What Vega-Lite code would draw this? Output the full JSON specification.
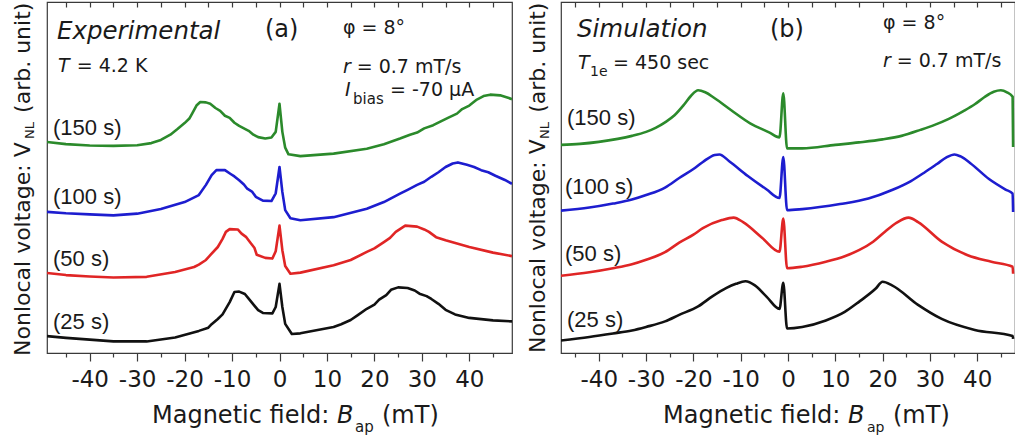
{
  "$schema": "https://vega.github.io/schema/vega-lite/v6.json",
  "padding": {"left": 11, "top": 0, "right": 0, "bottom": 0},
  "background": "white",
  "bounds": "flush",
  "spacing": 49,
  "config": {
    "view": {"stroke": "#3a3a3a", "strokeWidth": 1.2},
    "axis": {"domainColor": "#3a3a3a", "tickColor": "#3a3a3a", "labelFont": "DejaVu Sans", "labelFontSize": 23, "labelColor": "#1a1a1a", "grid": false, "tickWidth": 1.2, "domainWidth": 1.2},
    "text": {"font": "DejaVu Sans", "color": "#1a1a1a", "align": "left", "baseline": "alphabetic"}
  },
  "datasets": {
    "curves": [
      {"p": "a", "s": "150 s", "B": -49, "V": 6.01}, {"p": "a", "s": "150 s", "B": -45, "V": 5.95}, {"p": "a", "s": "150 s", "B": -40, "V": 5.91}, {"p": "a", "s": "150 s", "B": -35, "V": 5.9}, {"p": "a", "s": "150 s", "B": -30, "V": 5.92}, {"p": "a", "s": "150 s", "B": -27, "V": 5.98}, {"p": "a", "s": "150 s", "B": -25, "V": 6.07}, {"p": "a", "s": "150 s", "B": -23, "V": 6.22}, {"p": "a", "s": "150 s", "B": -21.5, "V": 6.38}, {"p": "a", "s": "150 s", "B": -20, "V": 6.55}, {"p": "a", "s": "150 s", "B": -19, "V": 6.68}, {"p": "a", "s": "150 s", "B": -18.3, "V": 6.85}, {"p": "a", "s": "150 s", "B": -17.5, "V": 7.05}, {"p": "a", "s": "150 s", "B": -16.7, "V": 7.15}, {"p": "a", "s": "150 s", "B": -15.5, "V": 7.14}, {"p": "a", "s": "150 s", "B": -14.6, "V": 7.1}, {"p": "a", "s": "150 s", "B": -13.5, "V": 6.98}, {"p": "a", "s": "150 s", "B": -12.5, "V": 6.9}, {"p": "a", "s": "150 s", "B": -11.5, "V": 6.76}, {"p": "a", "s": "150 s", "B": -10.5, "V": 6.7}, {"p": "a", "s": "150 s", "B": -9.5, "V": 6.56}, {"p": "a", "s": "150 s", "B": -8.5, "V": 6.47}, {"p": "a", "s": "150 s", "B": -7.5, "V": 6.4}, {"p": "a", "s": "150 s", "B": -6.5, "V": 6.33}, {"p": "a", "s": "150 s", "B": -5.5, "V": 6.22}, {"p": "a", "s": "150 s", "B": -4.5, "V": 6.15}, {"p": "a", "s": "150 s", "B": -3, "V": 6.11}, {"p": "a", "s": "150 s", "B": -1.7, "V": 6.14}, {"p": "a", "s": "150 s", "B": -0.8, "V": 6.3}, {"p": "a", "s": "150 s", "B": 0, "V": 7.1}, {"p": "a", "s": "150 s", "B": 0.6, "V": 6.3}, {"p": "a", "s": "150 s", "B": 1.2, "V": 5.85}, {"p": "a", "s": "150 s", "B": 1.9, "V": 5.66}, {"p": "a", "s": "150 s", "B": 4.4, "V": 5.61}, {"p": "a", "s": "150 s", "B": 11.4, "V": 5.68}, {"p": "a", "s": "150 s", "B": 18.4, "V": 5.82}, {"p": "a", "s": "150 s", "B": 22, "V": 5.95}, {"p": "a", "s": "150 s", "B": 25.4, "V": 6.11}, {"p": "a", "s": "150 s", "B": 27.5, "V": 6.22}, {"p": "a", "s": "150 s", "B": 29, "V": 6.28}, {"p": "a", "s": "150 s", "B": 30.5, "V": 6.4}, {"p": "a", "s": "150 s", "B": 32.4, "V": 6.49}, {"p": "a", "s": "150 s", "B": 34, "V": 6.6}, {"p": "a", "s": "150 s", "B": 35.5, "V": 6.7}, {"p": "a", "s": "150 s", "B": 37.4, "V": 6.82}, {"p": "a", "s": "150 s", "B": 38.5, "V": 6.95}, {"p": "a", "s": "150 s", "B": 40, "V": 7.05}, {"p": "a", "s": "150 s", "B": 41.6, "V": 7.22}, {"p": "a", "s": "150 s", "B": 43, "V": 7.32}, {"p": "a", "s": "150 s", "B": 44.4, "V": 7.36}, {"p": "a", "s": "150 s", "B": 46.5, "V": 7.34}, {"p": "a", "s": "150 s", "B": 48, "V": 7.28}, {"p": "a", "s": "150 s", "B": 49, "V": 7.23},

      {"p": "a", "s": "100 s", "B": -49, "V": 4.02}, {"p": "a", "s": "100 s", "B": -45, "V": 3.98}, {"p": "a", "s": "100 s", "B": -40, "V": 3.95}, {"p": "a", "s": "100 s", "B": -35, "V": 3.92}, {"p": "a", "s": "100 s", "B": -30, "V": 3.97}, {"p": "a", "s": "100 s", "B": -25, "V": 4.1}, {"p": "a", "s": "100 s", "B": -20, "V": 4.3}, {"p": "a", "s": "100 s", "B": -17, "V": 4.5}, {"p": "a", "s": "100 s", "B": -15.5, "V": 4.79}, {"p": "a", "s": "100 s", "B": -14.3, "V": 5.07}, {"p": "a", "s": "100 s", "B": -13.3, "V": 5.21}, {"p": "a", "s": "100 s", "B": -11.5, "V": 5.21}, {"p": "a", "s": "100 s", "B": -10.3, "V": 5.1}, {"p": "a", "s": "100 s", "B": -9.5, "V": 5.03}, {"p": "a", "s": "100 s", "B": -8.5, "V": 4.92}, {"p": "a", "s": "100 s", "B": -7.5, "V": 4.8}, {"p": "a", "s": "100 s", "B": -6.8, "V": 4.68}, {"p": "a", "s": "100 s", "B": -5.8, "V": 4.6}, {"p": "a", "s": "100 s", "B": -5, "V": 4.45}, {"p": "a", "s": "100 s", "B": -3.5, "V": 4.34}, {"p": "a", "s": "100 s", "B": -1.7, "V": 4.33}, {"p": "a", "s": "100 s", "B": -0.8, "V": 4.55}, {"p": "a", "s": "100 s", "B": 0, "V": 5.3}, {"p": "a", "s": "100 s", "B": 0.6, "V": 4.59}, {"p": "a", "s": "100 s", "B": 1.2, "V": 4.07}, {"p": "a", "s": "100 s", "B": 2.3, "V": 3.84}, {"p": "a", "s": "100 s", "B": 4.4, "V": 3.78}, {"p": "a", "s": "100 s", "B": 11.4, "V": 3.87}, {"p": "a", "s": "100 s", "B": 18.4, "V": 4.11}, {"p": "a", "s": "100 s", "B": 22, "V": 4.3}, {"p": "a", "s": "100 s", "B": 25.4, "V": 4.54}, {"p": "a", "s": "100 s", "B": 27, "V": 4.65}, {"p": "a", "s": "100 s", "B": 29, "V": 4.79}, {"p": "a", "s": "100 s", "B": 30.5, "V": 4.88}, {"p": "a", "s": "100 s", "B": 32, "V": 5.02}, {"p": "a", "s": "100 s", "B": 33.5, "V": 5.15}, {"p": "a", "s": "100 s", "B": 35, "V": 5.3}, {"p": "a", "s": "100 s", "B": 36.5, "V": 5.4}, {"p": "a", "s": "100 s", "B": 37.6, "V": 5.43}, {"p": "a", "s": "100 s", "B": 39.5, "V": 5.36}, {"p": "a", "s": "100 s", "B": 41, "V": 5.3}, {"p": "a", "s": "100 s", "B": 42.5, "V": 5.21}, {"p": "a", "s": "100 s", "B": 44, "V": 5.15}, {"p": "a", "s": "100 s", "B": 45.5, "V": 5.05}, {"p": "a", "s": "100 s", "B": 47.5, "V": 4.93}, {"p": "a", "s": "100 s", "B": 49, "V": 4.82},

      {"p": "a", "s": "50 s", "B": -49, "V": 2.28}, {"p": "a", "s": "50 s", "B": -45, "V": 2.22}, {"p": "a", "s": "50 s", "B": -40, "V": 2.18}, {"p": "a", "s": "50 s", "B": -35, "V": 2.15}, {"p": "a", "s": "50 s", "B": -28, "V": 2.17}, {"p": "a", "s": "50 s", "B": -22, "V": 2.31}, {"p": "a", "s": "50 s", "B": -18, "V": 2.45}, {"p": "a", "s": "50 s", "B": -17, "V": 2.52}, {"p": "a", "s": "50 s", "B": -15.5, "V": 2.65}, {"p": "a", "s": "50 s", "B": -14.5, "V": 2.8}, {"p": "a", "s": "50 s", "B": -13, "V": 3.02}, {"p": "a", "s": "50 s", "B": -12, "V": 3.25}, {"p": "a", "s": "50 s", "B": -11.3, "V": 3.45}, {"p": "a", "s": "50 s", "B": -10.5, "V": 3.53}, {"p": "a", "s": "50 s", "B": -8.8, "V": 3.52}, {"p": "a", "s": "50 s", "B": -8, "V": 3.4}, {"p": "a", "s": "50 s", "B": -7, "V": 3.3}, {"p": "a", "s": "50 s", "B": -6, "V": 3.12}, {"p": "a", "s": "50 s", "B": -5.3, "V": 3.0}, {"p": "a", "s": "50 s", "B": -4.8, "V": 2.8}, {"p": "a", "s": "50 s", "B": -3, "V": 2.71}, {"p": "a", "s": "50 s", "B": -1.5, "V": 2.69}, {"p": "a", "s": "50 s", "B": -0.8, "V": 2.9}, {"p": "a", "s": "50 s", "B": 0, "V": 3.63}, {"p": "a", "s": "50 s", "B": 0.6, "V": 2.93}, {"p": "a", "s": "50 s", "B": 1.2, "V": 2.48}, {"p": "a", "s": "50 s", "B": 2.3, "V": 2.26}, {"p": "a", "s": "50 s", "B": 4.4, "V": 2.29}, {"p": "a", "s": "50 s", "B": 11.4, "V": 2.5}, {"p": "a", "s": "50 s", "B": 15, "V": 2.65}, {"p": "a", "s": "50 s", "B": 18.4, "V": 2.88}, {"p": "a", "s": "50 s", "B": 20, "V": 2.98}, {"p": "a", "s": "50 s", "B": 22, "V": 3.16}, {"p": "a", "s": "50 s", "B": 23.3, "V": 3.28}, {"p": "a", "s": "50 s", "B": 24.5, "V": 3.45}, {"p": "a", "s": "50 s", "B": 26.5, "V": 3.63}, {"p": "a", "s": "50 s", "B": 29, "V": 3.6}, {"p": "a", "s": "50 s", "B": 30.5, "V": 3.52}, {"p": "a", "s": "50 s", "B": 31.5, "V": 3.45}, {"p": "a", "s": "50 s", "B": 33, "V": 3.3}, {"p": "a", "s": "50 s", "B": 35, "V": 3.21}, {"p": "a", "s": "50 s", "B": 40, "V": 3.02}, {"p": "a", "s": "50 s", "B": 45, "V": 2.86}, {"p": "a", "s": "50 s", "B": 49, "V": 2.76},

      {"p": "a", "s": "25 s", "B": -49, "V": 0.48}, {"p": "a", "s": "25 s", "B": -45, "V": 0.43}, {"p": "a", "s": "25 s", "B": -40, "V": 0.38}, {"p": "a", "s": "25 s", "B": -35, "V": 0.33}, {"p": "a", "s": "25 s", "B": -28, "V": 0.33}, {"p": "a", "s": "25 s", "B": -22, "V": 0.44}, {"p": "a", "s": "25 s", "B": -17, "V": 0.63}, {"p": "a", "s": "25 s", "B": -15, "V": 0.72}, {"p": "a", "s": "25 s", "B": -14.3, "V": 0.82}, {"p": "a", "s": "25 s", "B": -13, "V": 0.97}, {"p": "a", "s": "25 s", "B": -12, "V": 1.1}, {"p": "a", "s": "25 s", "B": -10.5, "V": 1.45}, {"p": "a", "s": "25 s", "B": -9.5, "V": 1.74}, {"p": "a", "s": "25 s", "B": -8.5, "V": 1.75}, {"p": "a", "s": "25 s", "B": -7.3, "V": 1.68}, {"p": "a", "s": "25 s", "B": -6.5, "V": 1.55}, {"p": "a", "s": "25 s", "B": -5.3, "V": 1.35}, {"p": "a", "s": "25 s", "B": -4.5, "V": 1.22}, {"p": "a", "s": "25 s", "B": -3.5, "V": 1.14}, {"p": "a", "s": "25 s", "B": -1.5, "V": 1.13}, {"p": "a", "s": "25 s", "B": -0.8, "V": 1.31}, {"p": "a", "s": "25 s", "B": 0, "V": 1.97}, {"p": "a", "s": "25 s", "B": 0.6, "V": 1.31}, {"p": "a", "s": "25 s", "B": 1.2, "V": 0.83}, {"p": "a", "s": "25 s", "B": 2.6, "V": 0.54}, {"p": "a", "s": "25 s", "B": 4.4, "V": 0.56}, {"p": "a", "s": "25 s", "B": 11.4, "V": 0.74}, {"p": "a", "s": "25 s", "B": 13, "V": 0.82}, {"p": "a", "s": "25 s", "B": 15, "V": 0.94}, {"p": "a", "s": "25 s", "B": 16.5, "V": 1.08}, {"p": "a", "s": "25 s", "B": 18.4, "V": 1.26}, {"p": "a", "s": "25 s", "B": 20, "V": 1.38}, {"p": "a", "s": "25 s", "B": 21, "V": 1.52}, {"p": "a", "s": "25 s", "B": 22.5, "V": 1.65}, {"p": "a", "s": "25 s", "B": 23.5, "V": 1.8}, {"p": "a", "s": "25 s", "B": 25, "V": 1.87}, {"p": "a", "s": "25 s", "B": 27, "V": 1.85}, {"p": "a", "s": "25 s", "B": 28.5, "V": 1.78}, {"p": "a", "s": "25 s", "B": 29.5, "V": 1.69}, {"p": "a", "s": "25 s", "B": 31, "V": 1.62}, {"p": "a", "s": "25 s", "B": 32, "V": 1.54}, {"p": "a", "s": "25 s", "B": 33.5, "V": 1.4}, {"p": "a", "s": "25 s", "B": 35, "V": 1.23}, {"p": "a", "s": "25 s", "B": 37, "V": 1.1}, {"p": "a", "s": "25 s", "B": 40, "V": 1.0}, {"p": "a", "s": "25 s", "B": 45, "V": 0.93}, {"p": "a", "s": "25 s", "B": 49, "V": 0.9},

      {"p": "b", "s": "150 s", "B": -48, "V": 4.15}, {"p": "b", "s": "150 s", "B": -44, "V": 4.17}, {"p": "b", "s": "150 s", "B": -40, "V": 4.21}, {"p": "b", "s": "150 s", "B": -36, "V": 4.27}, {"p": "b", "s": "150 s", "B": -33, "V": 4.33}, {"p": "b", "s": "150 s", "B": -30, "V": 4.41}, {"p": "b", "s": "150 s", "B": -28, "V": 4.49}, {"p": "b", "s": "150 s", "B": -26, "V": 4.6}, {"p": "b", "s": "150 s", "B": -24, "V": 4.74}, {"p": "b", "s": "150 s", "B": -22, "V": 4.95}, {"p": "b", "s": "150 s", "B": -20.5, "V": 5.13}, {"p": "b", "s": "150 s", "B": -19, "V": 5.24}, {"p": "b", "s": "150 s", "B": -17.5, "V": 5.2}, {"p": "b", "s": "150 s", "B": -15.5, "V": 5.08}, {"p": "b", "s": "150 s", "B": -12, "V": 4.84}, {"p": "b", "s": "150 s", "B": -8, "V": 4.58}, {"p": "b", "s": "150 s", "B": -4, "V": 4.4}, {"p": "b", "s": "150 s", "B": -1.8, "V": 4.3}, {"p": "b", "s": "150 s", "B": -1.0, "V": 5.18}, {"p": "b", "s": "150 s", "B": -0.2, "V": 4.08}, {"p": "b", "s": "150 s", "B": 3, "V": 4.08}, {"p": "b", "s": "150 s", "B": 10, "V": 4.15}, {"p": "b", "s": "150 s", "B": 15, "V": 4.2}, {"p": "b", "s": "150 s", "B": 20, "V": 4.26}, {"p": "b", "s": "150 s", "B": 24, "V": 4.33}, {"p": "b", "s": "150 s", "B": 28, "V": 4.45}, {"p": "b", "s": "150 s", "B": 31, "V": 4.55}, {"p": "b", "s": "150 s", "B": 34, "V": 4.67}, {"p": "b", "s": "150 s", "B": 37, "V": 4.82}, {"p": "b", "s": "150 s", "B": 39.5, "V": 4.96}, {"p": "b", "s": "150 s", "B": 41.5, "V": 5.1}, {"p": "b", "s": "150 s", "B": 43.5, "V": 5.21}, {"p": "b", "s": "150 s", "B": 45, "V": 5.24}, {"p": "b", "s": "150 s", "B": 46.3, "V": 5.2}, {"p": "b", "s": "150 s", "B": 47.5, "V": 5.11}, {"p": "b", "s": "150 s", "B": 47.6, "V": 4.11},

      {"p": "b", "s": "100 s", "B": -48, "V": 2.84}, {"p": "b", "s": "100 s", "B": -42, "V": 2.9}, {"p": "b", "s": "100 s", "B": -37, "V": 2.98}, {"p": "b", "s": "100 s", "B": -33, "V": 3.06}, {"p": "b", "s": "100 s", "B": -30, "V": 3.15}, {"p": "b", "s": "100 s", "B": -26, "V": 3.3}, {"p": "b", "s": "100 s", "B": -23, "V": 3.49}, {"p": "b", "s": "100 s", "B": -20, "V": 3.67}, {"p": "b", "s": "100 s", "B": -18, "V": 3.81}, {"p": "b", "s": "100 s", "B": -15.5, "V": 3.95}, {"p": "b", "s": "100 s", "B": -14.5, "V": 3.96}, {"p": "b", "s": "100 s", "B": -12.5, "V": 3.83}, {"p": "b", "s": "100 s", "B": -8.5, "V": 3.53}, {"p": "b", "s": "100 s", "B": -4.5, "V": 3.26}, {"p": "b", "s": "100 s", "B": -1.8, "V": 3.09}, {"p": "b", "s": "100 s", "B": -1.0, "V": 3.91}, {"p": "b", "s": "100 s", "B": -0.2, "V": 2.85}, {"p": "b", "s": "100 s", "B": 3, "V": 2.87}, {"p": "b", "s": "100 s", "B": 11, "V": 2.97}, {"p": "b", "s": "100 s", "B": 17, "V": 3.08}, {"p": "b", "s": "100 s", "B": 22, "V": 3.25}, {"p": "b", "s": "100 s", "B": 26, "V": 3.43}, {"p": "b", "s": "100 s", "B": 29, "V": 3.61}, {"p": "b", "s": "100 s", "B": 31.5, "V": 3.77}, {"p": "b", "s": "100 s", "B": 33.5, "V": 3.9}, {"p": "b", "s": "100 s", "B": 35.2, "V": 3.96}, {"p": "b", "s": "100 s", "B": 36.5, "V": 3.92}, {"p": "b", "s": "100 s", "B": 38.5, "V": 3.79}, {"p": "b", "s": "100 s", "B": 42.5, "V": 3.47}, {"p": "b", "s": "100 s", "B": 46, "V": 3.26}, {"p": "b", "s": "100 s", "B": 47.5, "V": 3.18}, {"p": "b", "s": "100 s", "B": 47.6, "V": 2.81},

      {"p": "b", "s": "50 s", "B": -48, "V": 1.54}, {"p": "b", "s": "50 s", "B": -42, "V": 1.61}, {"p": "b", "s": "50 s", "B": -37, "V": 1.69}, {"p": "b", "s": "50 s", "B": -33, "V": 1.77}, {"p": "b", "s": "50 s", "B": -30, "V": 1.86}, {"p": "b", "s": "50 s", "B": -26, "V": 2.01}, {"p": "b", "s": "50 s", "B": -23, "V": 2.2}, {"p": "b", "s": "50 s", "B": -20, "V": 2.36}, {"p": "b", "s": "50 s", "B": -18, "V": 2.49}, {"p": "b", "s": "50 s", "B": -14, "V": 2.65}, {"p": "b", "s": "50 s", "B": -11.5, "V": 2.7}, {"p": "b", "s": "50 s", "B": -9.5, "V": 2.61}, {"p": "b", "s": "50 s", "B": -5.5, "V": 2.3}, {"p": "b", "s": "50 s", "B": -1.8, "V": 2.02}, {"p": "b", "s": "50 s", "B": -1.0, "V": 2.68}, {"p": "b", "s": "50 s", "B": -0.2, "V": 1.69}, {"p": "b", "s": "50 s", "B": 3, "V": 1.72}, {"p": "b", "s": "50 s", "B": 8, "V": 1.82}, {"p": "b", "s": "50 s", "B": 12, "V": 1.93}, {"p": "b", "s": "50 s", "B": 15, "V": 2.05}, {"p": "b", "s": "50 s", "B": 18, "V": 2.22}, {"p": "b", "s": "50 s", "B": 20.5, "V": 2.42}, {"p": "b", "s": "50 s", "B": 23, "V": 2.6}, {"p": "b", "s": "50 s", "B": 25.5, "V": 2.7}, {"p": "b", "s": "50 s", "B": 27.5, "V": 2.61}, {"p": "b", "s": "50 s", "B": 32.5, "V": 2.22}, {"p": "b", "s": "50 s", "B": 38, "V": 1.95}, {"p": "b", "s": "50 s", "B": 43, "V": 1.82}, {"p": "b", "s": "50 s", "B": 47.5, "V": 1.72}, {"p": "b", "s": "50 s", "B": 47.6, "V": 1.58},

      {"p": "b", "s": "25 s", "B": -48, "V": 0.25}, {"p": "b", "s": "25 s", "B": -42, "V": 0.32}, {"p": "b", "s": "25 s", "B": -37, "V": 0.39}, {"p": "b", "s": "25 s", "B": -33, "V": 0.45}, {"p": "b", "s": "25 s", "B": -30, "V": 0.52}, {"p": "b", "s": "25 s", "B": -26, "V": 0.63}, {"p": "b", "s": "25 s", "B": -23, "V": 0.76}, {"p": "b", "s": "25 s", "B": -19, "V": 0.93}, {"p": "b", "s": "25 s", "B": -16, "V": 1.13}, {"p": "b", "s": "25 s", "B": -13, "V": 1.3}, {"p": "b", "s": "25 s", "B": -11, "V": 1.38}, {"p": "b", "s": "25 s", "B": -9, "V": 1.43}, {"p": "b", "s": "25 s", "B": -7, "V": 1.35}, {"p": "b", "s": "25 s", "B": -4.5, "V": 1.12}, {"p": "b", "s": "25 s", "B": -1.8, "V": 0.88}, {"p": "b", "s": "25 s", "B": -1.0, "V": 1.4}, {"p": "b", "s": "25 s", "B": -0.2, "V": 0.49}, {"p": "b", "s": "25 s", "B": 3, "V": 0.52}, {"p": "b", "s": "25 s", "B": 8, "V": 0.65}, {"p": "b", "s": "25 s", "B": 12, "V": 0.82}, {"p": "b", "s": "25 s", "B": 15, "V": 1.02}, {"p": "b", "s": "25 s", "B": 18.5, "V": 1.28}, {"p": "b", "s": "25 s", "B": 20, "V": 1.42}, {"p": "b", "s": "25 s", "B": 22, "V": 1.35}, {"p": "b", "s": "25 s", "B": 27.5, "V": 0.96}, {"p": "b", "s": "25 s", "B": 32.5, "V": 0.68}, {"p": "b", "s": "25 s", "B": 39.5, "V": 0.46}, {"p": "b", "s": "25 s", "B": 47.5, "V": 0.34}, {"p": "b", "s": "25 s", "B": 47.6, "V": 0.28}
    ],
    "bigItalic": [
      {"p": "a", "x": -46.89, "y": 8.946, "t": "Experimental"},
      {"p": "b", "x": -44.62, "y": 6.307, "t": "Simulation"}
    ],
    "big": [
      {"p": "a", "x": -3.06, "y": 9.0, "t": "(a)"},
      {"p": "a", "x": -26.87, "y": -1.986, "t": "Magnetic field:"},
      {"p": "a", "x": 21.6, "y": -1.986, "t": "(mT)"},
      {"p": "b", "x": -3.81, "y": 6.307, "t": "(b)"},
      {"p": "b", "x": -26.43, "y": -1.39, "t": "Magnetic field:"},
      {"p": "b", "x": 22.2, "y": -1.39, "t": "(mT)"}
    ],
    "param": [
      {"p": "a", "x": -42.74, "y": 8.006, "t": "= 4.2 K"},
      {"p": "a", "x": 13.38, "y": 9.088, "t": "φ = 8°"},
      {"p": "a", "x": 16.27, "y": 7.98, "t": "= 0.7 mT/s"},
      {"p": "a", "x": 23.29, "y": 7.32, "t": "= -70 μA"},
      {"p": "b", "x": -37.0, "y": 5.669, "t": "= 450 sec"},
      {"p": "b", "x": 20.09, "y": 6.467, "t": "φ = 8°"},
      {"p": "b", "x": 22.99, "y": 5.709, "t": "= 0.7 mT/s"}
    ],
    "paramItalic": [
      {"p": "a", "x": -46.68, "y": 8.006, "t": "T"},
      {"p": "a", "x": 13.38, "y": 7.98, "t": "r"},
      {"p": "a", "x": 13.8, "y": 7.32, "t": "I"},
      {"p": "b", "x": -44.41, "y": 5.669, "t": "T"},
      {"p": "b", "x": 20.09, "y": 5.709, "t": "r"}
    ],
    "sub": [
      {"p": "a", "x": 15.49, "y": 7.09, "t": "bias"},
      {"p": "a", "x": 15.91, "y": -2.25, "t": "ap"},
      {"p": "b", "x": -41.87, "y": 5.529, "t": "1e"},
      {"p": "b", "x": 16.71, "y": -1.577, "t": "ap"}
    ],
    "series": [
      {"p": "a", "x": -47.73, "y": 6.21, "t": "(150 s)"},
      {"p": "a", "x": -47.73, "y": 4.25, "t": "(100 s)"},
      {"p": "a", "x": -47.73, "y": 2.48, "t": "(50 s)"},
      {"p": "a", "x": -47.73, "y": 0.69, "t": "(25 s)"},
      {"p": "b", "x": -46.73, "y": 4.55, "t": "(150 s)"},
      {"p": "b", "x": -47.16, "y": 3.17, "t": "(100 s)"},
      {"p": "b", "x": -47.16, "y": 1.83, "t": "(50 s)"},
      {"p": "b", "x": -46.73, "y": 0.52, "t": "(25 s)"}
    ],
    "axisItalic": [
      {"p": "a", "x": 12.12, "y": -1.986, "t": "B"},
      {"p": "b", "x": 12.69, "y": -1.39, "t": "B"}
    ],
    "rot": [
      {"p": "a", "x": -52.58, "y": -0.085, "t": "Nonlocal voltage: V"},
      {"p": "a", "x": -52.58, "y": 6.84, "t": "(arb. unit)"},
      {"p": "b", "x": -51.39, "y": 0.0, "t": "Nonlocal voltage: V"},
      {"p": "b", "x": -51.39, "y": 4.79, "t": "(arb. unit)"}
    ],
    "rotSub": [
      {"p": "a", "x": -51.74, "y": 6.1, "t": "NL"},
      {"p": "b", "x": -50.54, "y": 4.27, "t": "NL"}
    ]
  },
  "hconcat": [
    {
      "width": 465,
      "height": 351,
      "resolve": {"scale": {"x": "independent"}},
      "layer": [
        {
          "data": {"name": "curves"},
          "transform": [{"filter": "datum.p === 'a'"}],
          "mark": {"type": "line", "strokeWidth": 2.6, "strokeJoin": "round", "clip": true},
          "encoding": {
            "x": {"field": "B", "type": "quantitative", "scale": {"domain": [-49, 49], "nice": false, "zero": false},
                  "axis": {"orient": "bottom", "values": [-40, -30, -20, -10, 0, 10, 20, 30, 40], "tickSize": 8, "labelPadding": 7, "title": null, "labelFlush": false, "labelExpr": "datum.value < 0 ? '-' + abs(datum.value) : '' + datum.value"}},
            "y": {"field": "V", "type": "quantitative", "scale": {"domain": [0, 10], "nice": false, "zero": false},
                  "axis": {"orient": "left", "values": [0, 1, 2, 3, 4, 5, 6, 7, 8, 9, 10], "tickSize": 8, "labels": false, "title": null}},
            "color": {"field": "s", "type": "nominal", "legend": null,
                      "scale": {"domain": ["25 s", "50 s", "100 s", "150 s"], "range": ["#111111", "#e02525", "#1d1dcf", "#2b8a2b"]}}
          }
        },
        {
          "data": {"name": "bigItalic"},
          "transform": [{"filter": "datum.p === 'a'"}],
          "mark": {"type": "text", "fontSize": 24.5, "fontStyle": "italic"},
          "encoding": {
            "x": {"field": "x", "type": "quantitative", "scale": {"domain": [-49, 49], "nice": false, "zero": false},
                  "axis": {"orient": "bottom", "values": [-45, -35, -25, -15, -5, 5, 15, 25, 35, 45], "tickSize": 4, "labels": false, "domain": false, "title": null}},
            "y": {"field": "y", "type": "quantitative", "scale": {"domain": [0, 10], "nice": false, "zero": false}, "axis": null},
            "text": {"field": "t"}
          }
        },
        {
          "data": {"name": "big"},
          "transform": [{"filter": "datum.p === 'a'"}],
          "mark": {"type": "text", "fontSize": 24},
          "encoding": {
            "x": {"field": "x", "type": "quantitative", "scale": {"domain": [-49, 49], "nice": false, "zero": false},
                  "axis": {"orient": "top", "values": [-45, -40, -35, -30, -25, -20, -15, -10, -5, 0, 5, 10, 15, 20, 25, 30, 35, 40, 45], "tickSize": -5, "labels": false, "domain": false, "title": null}},
            "y": {"field": "y", "type": "quantitative", "scale": {"domain": [0, 10], "nice": false, "zero": false}, "axis": null},
            "text": {"field": "t"}
          }
        },
        {
          "data": {"name": "param"},
          "transform": [{"filter": "datum.p === 'a'"}],
          "mark": {"type": "text", "fontSize": 19},
          "encoding": {
            "x": {"field": "x", "type": "quantitative", "scale": {"domain": [-49, 49], "nice": false, "zero": false}, "axis": null},
            "y": {"field": "y", "type": "quantitative", "scale": {"domain": [0, 10], "nice": false, "zero": false}, "axis": null},
            "text": {"field": "t"}
          }
        },
        {
          "data": {"name": "paramItalic"},
          "transform": [{"filter": "datum.p === 'a'"}],
          "mark": {"type": "text", "fontSize": 19, "fontStyle": "italic"},
          "encoding": {
            "x": {"field": "x", "type": "quantitative", "scale": {"domain": [-49, 49], "nice": false, "zero": false}, "axis": null},
            "y": {"field": "y", "type": "quantitative", "scale": {"domain": [0, 10], "nice": false, "zero": false}, "axis": null},
            "text": {"field": "t"}
          }
        },
        {
          "data": {"name": "sub"},
          "transform": [{"filter": "datum.p === 'a'"}],
          "mark": {"type": "text", "fontSize": 15},
          "encoding": {
            "x": {"field": "x", "type": "quantitative", "scale": {"domain": [-49, 49], "nice": false, "zero": false}, "axis": null},
            "y": {"field": "y", "type": "quantitative", "scale": {"domain": [0, 10], "nice": false, "zero": false}, "axis": null},
            "text": {"field": "t"}
          }
        },
        {
          "data": {"name": "series"},
          "transform": [{"filter": "datum.p === 'a'"}],
          "mark": {"type": "text", "fontSize": 22, "font": "Liberation Sans"},
          "encoding": {
            "x": {"field": "x", "type": "quantitative", "scale": {"domain": [-49, 49], "nice": false, "zero": false}, "axis": null},
            "y": {"field": "y", "type": "quantitative", "scale": {"domain": [0, 10], "nice": false, "zero": false}, "axis": null},
            "text": {"field": "t"}
          }
        },
        {
          "data": {"name": "axisItalic"},
          "transform": [{"filter": "datum.p === 'a'"}],
          "mark": {"type": "text", "fontSize": 24, "fontStyle": "italic"},
          "encoding": {
            "x": {"field": "x", "type": "quantitative", "scale": {"domain": [-49, 49], "nice": false, "zero": false}, "axis": null},
            "y": {"field": "y", "type": "quantitative", "scale": {"domain": [0, 10], "nice": false, "zero": false}, "axis": null},
            "text": {"field": "t"}
          }
        },
        {
          "data": {"name": "rot"},
          "transform": [{"filter": "datum.p === 'a'"}],
          "mark": {"type": "text", "fontSize": 22, "angle": 270},
          "encoding": {
            "x": {"field": "x", "type": "quantitative", "scale": {"domain": [-49, 49], "nice": false, "zero": false}, "axis": null},
            "y": {"field": "y", "type": "quantitative", "scale": {"domain": [0, 10], "nice": false, "zero": false}, "axis": null},
            "text": {"field": "t"}
          }
        },
        {
          "data": {"name": "rotSub"},
          "transform": [{"filter": "datum.p === 'a'"}],
          "mark": {"type": "text", "fontSize": 13, "angle": 270},
          "encoding": {
            "x": {"field": "x", "type": "quantitative", "scale": {"domain": [-49, 49], "nice": false, "zero": false}, "axis": null},
            "y": {"field": "y", "type": "quantitative", "scale": {"domain": [0, 10], "nice": false, "zero": false}, "axis": null},
            "text": {"field": "t"}
          }
        }
      ]
    },
    {
      "width": 454,
      "height": 351,
      "resolve": {"scale": {"x": "independent"}},
      "layer": [
        {
          "data": {"name": "curves"},
          "transform": [{"filter": "datum.p === 'b'"}],
          "mark": {"type": "line", "strokeWidth": 2.6, "strokeJoin": "round", "interpolate": "monotone", "clip": true},
          "encoding": {
            "x": {"field": "B", "type": "quantitative", "scale": {"domain": [-48, 48], "nice": false, "zero": false},
                  "axis": {"orient": "bottom", "values": [-40, -30, -20, -10, 0, 10, 20, 30, 40], "tickSize": 8, "labelPadding": 7, "title": null, "labelFlush": false, "labelExpr": "datum.value < 0 ? '-' + abs(datum.value) : '' + datum.value"}},
            "y": {"field": "V", "type": "quantitative", "scale": {"domain": [0, 7], "nice": false, "zero": false},
                  "axis": {"orient": "left", "values": [0, 1, 2, 3, 4, 5, 6, 7], "tickSize": 8, "labels": false, "title": null}},
            "color": {"field": "s", "type": "nominal", "legend": null,
                      "scale": {"domain": ["25 s", "50 s", "100 s", "150 s"], "range": ["#111111", "#e02525", "#1d1dcf", "#2b8a2b"]}}
          }
        },
        {
          "data": {"name": "bigItalic"},
          "transform": [{"filter": "datum.p === 'b'"}],
          "mark": {"type": "text", "fontSize": 24.5, "fontStyle": "italic"},
          "encoding": {
            "x": {"field": "x", "type": "quantitative", "scale": {"domain": [-48, 48], "nice": false, "zero": false},
                  "axis": {"orient": "bottom", "values": [-45, -35, -25, -15, -5, 5, 15, 25, 35, 45], "tickSize": 4, "labels": false, "domain": false, "title": null}},
            "y": {"field": "y", "type": "quantitative", "scale": {"domain": [0, 7], "nice": false, "zero": false}, "axis": null},
            "text": {"field": "t"}
          }
        },
        {
          "data": {"name": "big"},
          "transform": [{"filter": "datum.p === 'b'"}],
          "mark": {"type": "text", "fontSize": 24},
          "encoding": {
            "x": {"field": "x", "type": "quantitative", "scale": {"domain": [-48, 48], "nice": false, "zero": false},
                  "axis": {"orient": "top", "values": [-45, -40, -35, -30, -25, -20, -15, -10, -5, 0, 5, 10, 15, 20, 25, 30, 35, 40, 45], "tickSize": -5, "labels": false, "domain": false, "title": null}},
            "y": {"field": "y", "type": "quantitative", "scale": {"domain": [0, 7], "nice": false, "zero": false}, "axis": null},
            "text": {"field": "t"}
          }
        },
        {
          "data": {"name": "param"},
          "transform": [{"filter": "datum.p === 'b'"}],
          "mark": {"type": "text", "fontSize": 19},
          "encoding": {
            "x": {"field": "x", "type": "quantitative", "scale": {"domain": [-48, 48], "nice": false, "zero": false}, "axis": null},
            "y": {"field": "y", "type": "quantitative", "scale": {"domain": [0, 7], "nice": false, "zero": false}, "axis": null},
            "text": {"field": "t"}
          }
        },
        {
          "data": {"name": "paramItalic"},
          "transform": [{"filter": "datum.p === 'b'"}],
          "mark": {"type": "text", "fontSize": 19, "fontStyle": "italic"},
          "encoding": {
            "x": {"field": "x", "type": "quantitative", "scale": {"domain": [-48, 48], "nice": false, "zero": false}, "axis": null},
            "y": {"field": "y", "type": "quantitative", "scale": {"domain": [0, 7], "nice": false, "zero": false}, "axis": null},
            "text": {"field": "t"}
          }
        },
        {
          "data": {"name": "sub"},
          "transform": [{"filter": "datum.p === 'b'"}],
          "mark": {"type": "text", "fontSize": 14},
          "encoding": {
            "x": {"field": "x", "type": "quantitative", "scale": {"domain": [-48, 48], "nice": false, "zero": false}, "axis": null},
            "y": {"field": "y", "type": "quantitative", "scale": {"domain": [0, 7], "nice": false, "zero": false}, "axis": null},
            "text": {"field": "t"}
          }
        },
        {
          "data": {"name": "series"},
          "transform": [{"filter": "datum.p === 'b'"}],
          "mark": {"type": "text", "fontSize": 22, "font": "Liberation Sans"},
          "encoding": {
            "x": {"field": "x", "type": "quantitative", "scale": {"domain": [-48, 48], "nice": false, "zero": false}, "axis": null},
            "y": {"field": "y", "type": "quantitative", "scale": {"domain": [0, 7], "nice": false, "zero": false}, "axis": null},
            "text": {"field": "t"}
          }
        },
        {
          "data": {"name": "axisItalic"},
          "transform": [{"filter": "datum.p === 'b'"}],
          "mark": {"type": "text", "fontSize": 24, "fontStyle": "italic"},
          "encoding": {
            "x": {"field": "x", "type": "quantitative", "scale": {"domain": [-48, 48], "nice": false, "zero": false}, "axis": null},
            "y": {"field": "y", "type": "quantitative", "scale": {"domain": [0, 7], "nice": false, "zero": false}, "axis": null},
            "text": {"field": "t"}
          }
        },
        {
          "data": {"name": "rot"},
          "transform": [{"filter": "datum.p === 'b'"}],
          "mark": {"type": "text", "fontSize": 22, "angle": 270},
          "encoding": {
            "x": {"field": "x", "type": "quantitative", "scale": {"domain": [-48, 48], "nice": false, "zero": false}, "axis": null},
            "y": {"field": "y", "type": "quantitative", "scale": {"domain": [0, 7], "nice": false, "zero": false}, "axis": null},
            "text": {"field": "t"}
          }
        },
        {
          "data": {"name": "rotSub"},
          "transform": [{"filter": "datum.p === 'b'"}],
          "mark": {"type": "text", "fontSize": 13, "angle": 270},
          "encoding": {
            "x": {"field": "x", "type": "quantitative", "scale": {"domain": [-48, 48], "nice": false, "zero": false}, "axis": null},
            "y": {"field": "y", "type": "quantitative", "scale": {"domain": [0, 7], "nice": false, "zero": false}, "axis": null},
            "text": {"field": "t"}
          }
        }
      ]
    }
  ]
}
